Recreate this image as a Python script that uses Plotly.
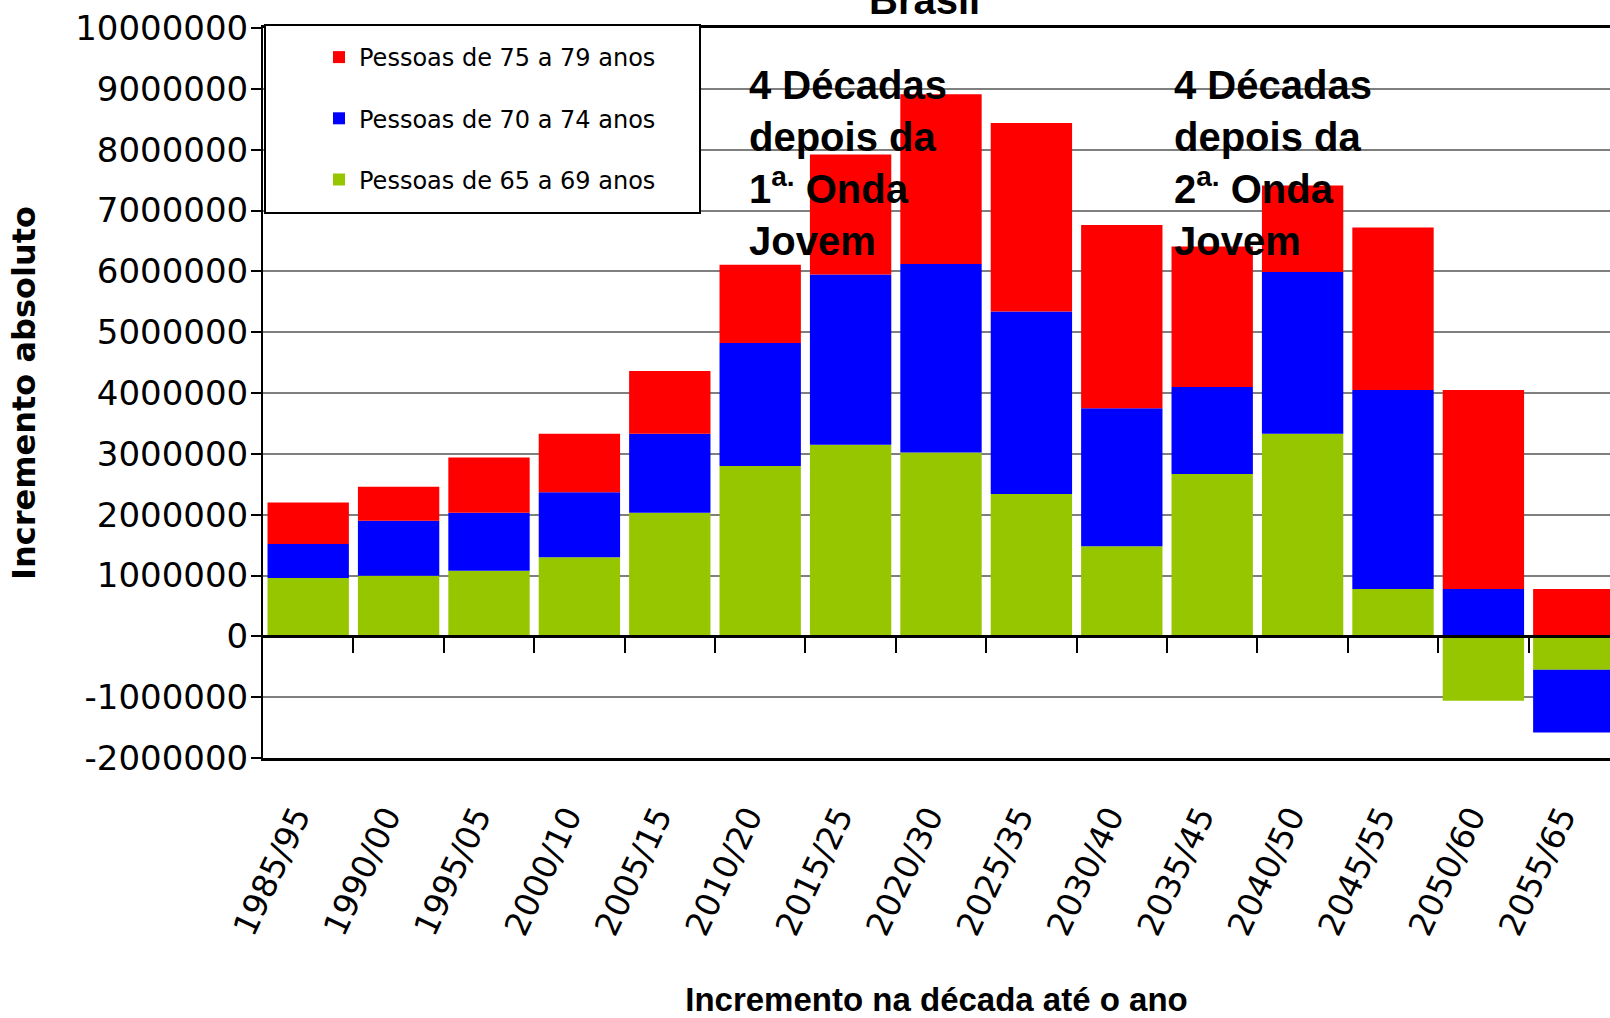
import plotly.graph_objects as go

# ---- data ----
categories = ["1985/95", "1990/00", "1995/05", "2000/10", "2005/15", "2010/20",
              "2015/25", "2020/30", "2025/35", "2030/40", "2035/45", "2040/50",
              "2045/55", "2050/60", "2055/65"]
pessoas_65_69 = [957000, 995000, 1080000, 1300000, 2030000, 2800000, 3150000, 3020000,
                 2340000, 1480000, 2670000, 3330000, 780000, -1060000, -550000]
pessoas_70_74 = [560000, 905000, 950000, 1070000, 1300000, 2020000, 2800000, 3100000,
                 3000000, 2270000, 1430000, 2660000, 3270000, 780000, -1030000]
pessoas_75_79 = [684000, 560000, 910000, 960000, 1030000, 1290000, 1970000, 2790000,
                 3100000, 3010000, 2310000, 1420000, 2670000, 3270000, 780000]
series_names = ["Pessoas de 65 a 69 anos", "Pessoas de 70 a 74 anos", "Pessoas de 75 a 79 anos"]
y_tickvals = [-2000000, -1000000, 0, 1000000, 2000000, 3000000, 4000000, 5000000,
              6000000, 7000000, 8000000, 9000000, 10000000]
y_ticktext = [str(v) for v in y_tickvals]

colors = ["#95C600", "#0000FF", "#FF0000"]
legend_ranks = [3, 2, 1]

W, H = 1610, 1018
ML, MR, MT, MB = 263, 0, 28, 260
PW, PH = W - ML - MR, H - MT - MB
XMIN = -0.5
XMAX = XMIN + PW / 90.4
YMIN, YMAX = -2000000, 10000000


def px_x(px):
    return (px - ML) / PW


def px_y(py):
    return (H - MB - py) / PH


fig = go.Figure()
for name, vals, col, rk in zip(series_names, [pessoas_65_69, pessoas_70_74, pessoas_75_79],
                               colors, legend_ranks):
    fig.add_trace(go.Bar(x=categories, y=vals, name=name, marker=dict(color=col, line=dict(width=0)),
                         legendgroup=name, legendrank=rk))

# invisible trace to carry the zero-line category axis
fig.add_trace(go.Scatter(x=[], y=[], xaxis="x2", showlegend=False, hoverinfo="skip"))

fig.update_layout(
    width=W, height=H,
    margin=dict(l=ML, r=MR, t=MT, b=MB, pad=0),
    paper_bgcolor="white", plot_bgcolor="white",
    barmode="relative", bargap=0.1,
    showlegend=True,
    legend=dict(x=px_x(319), y=px_y(35), xanchor="left", yanchor="top",
                bgcolor="rgba(0,0,0,0)", borderwidth=0,
                font=dict(family="DejaVu Sans", size=24, color="black"),
                traceorder="grouped", tracegroupgap=27, itemwidth=30),
    xaxis=dict(type="category", range=[XMIN, XMAX], tickangle=-65,
               tickfont=dict(family="DejaVu Sans", size=33, color="black"),
               ticks="", showline=True, mirror=True, linecolor="black", linewidth=3,
               showgrid=False, ticklabelstandoff=23, ticklabelshift=-12,
               title=dict(text="Incremento na década até o ano",
                          font=dict(family="Liberation Sans", size=33, color="black", weight="bold"),
                          standoff=48)),
    xaxis2=dict(overlaying="x", anchor="free", position=(0 - YMIN) / (YMAX - YMIN),
                range=[XMIN, XMAX], showline=True, linecolor="black", linewidth=3,
                ticks="outside", ticklen=15, tickwidth=2, tickcolor="black",
                tickmode="array", tickvals=[i + 0.5 for i in range(len(categories) - 1)],
                showticklabels=False, showgrid=False, zeroline=False),
    yaxis=dict(range=[YMIN, YMAX], tickmode="array", tickvals=y_tickvals, ticktext=y_ticktext,
               tickfont=dict(family="DejaVu Sans", size=34, color="black"),
               showline=True, linecolor="black", linewidth=2,
               ticks="outside", ticklen=10, tickwidth=2, tickcolor="black",
               showgrid=True, gridcolor="#7f7f7f", gridwidth=2, zeroline=False,
               ticklabelstandoff=-4,
               title=dict(text="Incremento absoluto",
                          font=dict(family="DejaVu Sans", size=32, color="black", weight="bold"),
                          standoff=30)),
)

# legend frame (white box behind the legend entries)
fig.add_shape(type="rect", xref="paper", yref="paper",
              x0=px_x(265), x1=px_x(700), y0=px_y(213), y1=px_y(25),
              line=dict(color="black", width=2), fillcolor="white", layer="above")

ann_font = dict(family="Liberation Sans", size=40, color="black", weight="bold")
fig.add_annotation(text="4 Décadas<br>depois da<br>1<sup>a.</sup> Onda<br>Jovem",
                   xref="x", yref="y", x=4.85, y=9460000, xanchor="left", yanchor="top",
                   align="left", showarrow=False, font=ann_font)
fig.add_annotation(text="4 Décadas<br>depois da<br>2<sup>a.</sup> Onda<br>Jovem",
                   xref="x", yref="y", x=9.55, y=9460000, xanchor="left", yanchor="top",
                   align="left", showarrow=False, font=ann_font)
fig.add_annotation(text="Brasil", xref="paper", yref="paper", x=px_x(924), y=px_y(24),
                   xanchor="center", yanchor="bottom", showarrow=False,
                   font=dict(family="Liberation Sans", size=40, color="black", weight="bold"))

fig.write_html("out.html", config={"displayModeBar": False},
               post_script="document.body.style.margin='0px';")
